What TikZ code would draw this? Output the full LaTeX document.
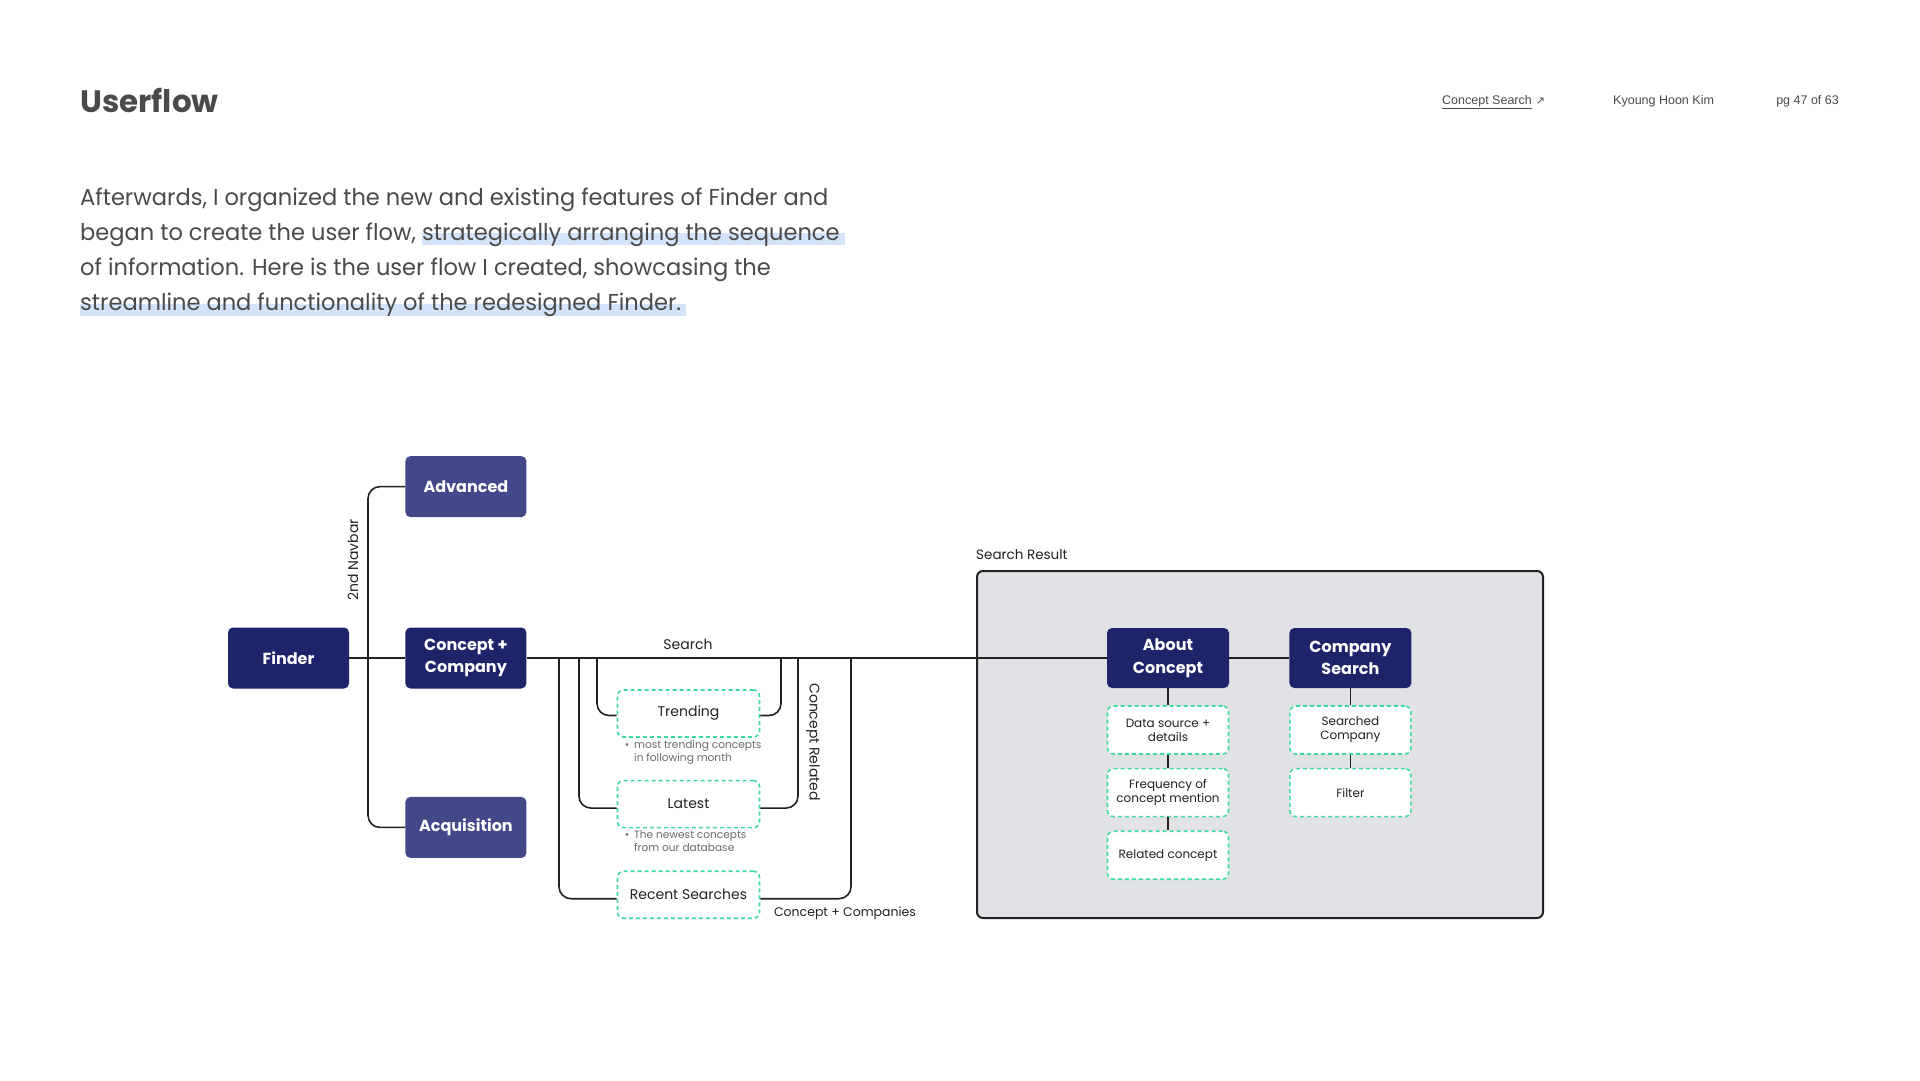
\documentclass[tikz,border=0pt]{standalone}
\usepackage{fontspec}
\setmainfont{Poppins}
\newfontfamily\parafont[FakeStretch=0.98]{Poppins}
\newfontfamily\headfont{Liberation Sans}
\newfontfamily\arrowfont{DejaVu Sans}
\usepackage{xcolor}
\usepackage{tikz}
\usetikzlibrary{
  positioning,
  calc,
  backgrounds
}
\definecolor{navy}{HTML}{1E2469}
\definecolor{indigo}{HTML}{434889}
\definecolor{mint}{HTML}{3DDBA0}
\definecolor{panelgrey}{HTML}{E1E2E6}
\definecolor{ink}{HTML}{222222}
\definecolor{bodytext}{HTML}{4A4A4A}
\definecolor{notegrey}{HTML}{6A6A6A}
\definecolor{hlblue}{HTML}{D2E3FA}
\providecommand{\hlband}[1]{\setbox0\hbox{#1}\rlap{\textcolor{hlblue}{\rule[-5pt]{\dimexpr\wd0+5pt\relax}{12pt}}}\box0}

\begin{document}
\begin{tikzpicture}[
    x=1pt, y=-1pt,
    font=\fontsize{14}{17}\selectfont,
    text=ink,
    navbox/.style={
        fill=navy,
        text=white,
        rounded corners=5pt,
        align=center,
        minimum width=121pt,
        minimum height=61pt,
        inner sep=0pt,
        font=\fontsize{16}{22.5}\selectfont\bfseries
    },
    subbox/.style={navbox, fill=indigo},
    dashbox/.style={
        draw=mint,
        fill=white,
        dash pattern=on 4pt off 3pt,
        line width=1.6pt,
        rounded corners=6pt,
        align=center,
        minimum width=142pt,
        minimum height=47pt,
        inner sep=0pt
    },
    smallbox/.style={dashbox, minimum width=121pt, minimum height=48pt,
        font=\fontsize{12}{14}\selectfont},
    panel/.style={
        draw=ink,
        fill=panelgrey,
        line width=2pt,
        rounded corners=6pt,
        minimum width=566pt,
        minimum height=347pt,
        inner sep=0pt
    },
    link/.style={draw=ink, line width=1.6pt},
    elbow/.style={link, rounded corners=12pt},
    note/.style={align=left, inner sep=0pt, text=notegrey,
        font=\fontsize{10.6}{13}\selectfont},
    para/.style={inner sep=0pt, anchor=base west, text=bodytext,
        font=\parafont\fontsize{23}{35}\selectfont},
    header/.style={inner sep=0pt, text=bodytext,
        font=\headfont\fontsize{12.5}{15}\selectfont}
]
\fill[white] (0,0) rectangle (1920,1080);
\useasboundingbox (0,0) rectangle (1920,1080);

% ----------------------------------------------------------
% PAGE HEADER
% ----------------------------------------------------------

\node[inner sep=0pt, anchor=base west, text=bodytext,
      font=\fontsize{31}{36}\selectfont\bfseries] (title) at (80,112) {Userflow};

\node[header, anchor=base west] (hdrlink) at (1442,104) {\underline{Concept Search}\hspace{4pt}{\arrowfont\fontsize{11}{13}\selectfont ↗}};
\node[header, anchor=base west] (hdrauthor) at (1613,104) {Kyoung Hoon Kim};
\node[header, anchor=base east] (hdrpage) at (1839,104) {pg 47 of 63};

\node[para] (para1) at (80,205) {Afterwards, I organized the new and existing features of Finder and};
\node[para] (para2) at ([yshift=-35.2pt]para1.base west) {began to create the user flow, \hlband{strategically arranging the sequence}};
\node[para] (para3) at ([yshift=-35.2pt]para2.base west) {of information. Here is the user flow I created, showcasing the};
\node[para] (para4) at ([yshift=-35.2pt]para3.base west) {\hlband{streamline and functionality of the redesigned Finder.}};

% ----------------------------------------------------------
% NODES
% ----------------------------------------------------------

\node[navbox] (finder) at (288.5,658) {Finder};
\node[navbox, right=56pt of finder] (conceptco) {Concept +\\Company};
\node[subbox, above=110pt of conceptco] (advanced) {Advanced};
\node[subbox, below=108pt of conceptco] (acquisition) {Acquisition};

\node[dashbox] (trending) at (688.5,713.5) {Trending};
\node[dashbox, below=42pt of trending] (latest) {Latest};
\node[dashbox, below=42pt of latest] (recent) {Recent Searches};

\node[note, anchor=north west] (trendnote) at (634,740) {\llap{•\hspace{5pt}}most trending concepts\\in following month};
\node[note, anchor=north west] (latestnote) at (634,830) {\llap{•\hspace{5pt}}The newest concepts\\from our database};

\node[panel] (result) at (1260,744.5) {};
\node[inner sep=0pt, anchor=base west, font=\fontsize{13.5}{16}\selectfont] (resultlbl) at ([yshift=11pt]result.north west) {Search Result};

\node[navbox, minimum width=122pt, minimum height=60pt] (aboutc) at (1168,658) {About\\Concept};
\node[navbox, minimum width=122pt, minimum height=60pt, right=60pt of aboutc] (compsearch) {Company\\Search};

\node[smallbox, below=17pt of aboutc] (datasrc) {Data source +\\details};
\node[smallbox, below=13pt of datasrc] (freq) {Frequency of\\concept mention};
\node[smallbox, below=13pt of freq] (related) {Related concept};

\node[smallbox, below=17pt of compsearch] (searched) {Searched\\Company};
\node[smallbox, below=13pt of searched] (filter) {Filter};

% tap points on the search line
\coordinate (navbus) at (368,658);
\coordinate (tapa) at (559,658);
\coordinate (tapb) at (579,658);
\coordinate (tapc) at (597,658);
\coordinate (tapd) at (781,658);
\coordinate (tape) at (798,658);
\coordinate (tapf) at (851,658);

% ----------------------------------------------------------
% CONNECTORS
% ----------------------------------------------------------

\draw[link] (finder) -- (conceptco);
\draw[elbow] (advanced.west) -| (navbus) |- (acquisition.west);

\draw[link] (conceptco) -- (aboutc);
\draw[link] (aboutc) -- (compsearch);

\draw[elbow] (tapa) |- ([yshift=-4pt]recent.west);
\draw[elbow] ([yshift=-4pt]recent.east) -| (tapf);
\draw[elbow] (tapb) |- ([yshift=-4pt]latest.west);
\draw[elbow] ([yshift=-4pt]latest.east) -| (tape);
\draw[elbow] (tapc) |- ([yshift=-2pt]trending.west);
\draw[elbow] ([yshift=-2pt]trending.east) -| (tapd);

\draw[link] (aboutc) -- (datasrc);
\draw[link] (datasrc) -- (freq);
\draw[link] (freq) -- (related);
\draw[link] (compsearch) -- (searched);
\draw[link] (searched) -- (filter);

% ----------------------------------------------------------
% ANNOTATIONS
% ----------------------------------------------------------

\node[rotate=90, inner sep=0pt] (navbarlbl) at (353,560) {2nd Navbar};
\node[inner sep=0pt, anchor=base] (searchlbl) at (688,649) {Search};
\node[rotate=-90, inner sep=0pt] (relatedlbl) at (813,742) {Concept Related};
\node[inner sep=0pt, font=\fontsize{12.5}{15}\selectfont] (companieslbl) at (845,913) {Concept + Companies};

\end{tikzpicture}
\end{document}
